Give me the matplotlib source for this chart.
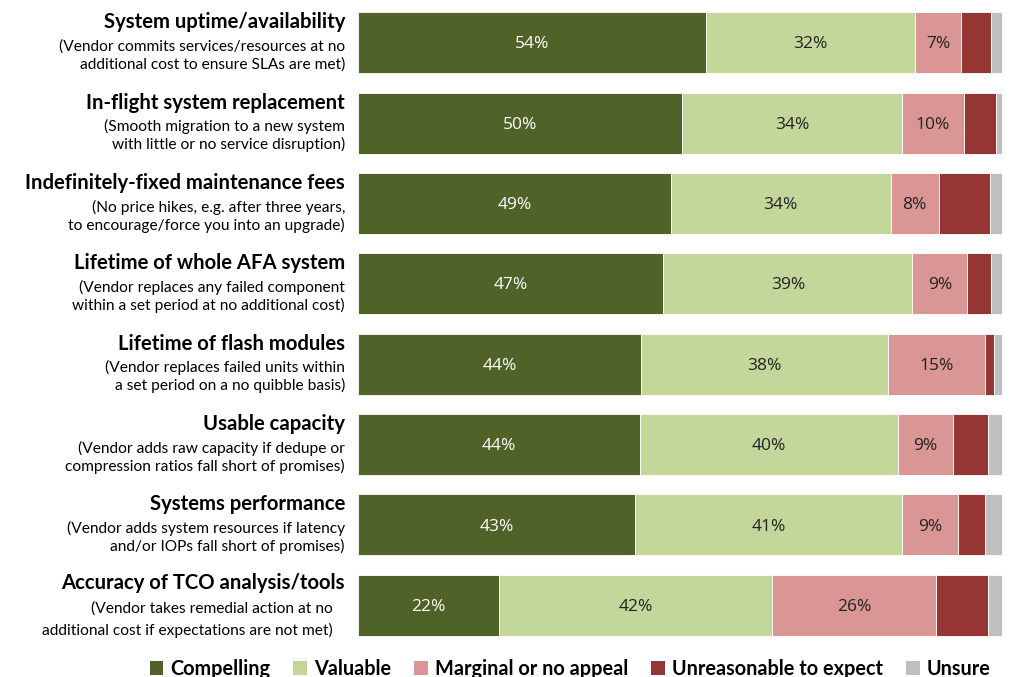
import matplotlib
matplotlib.use("Agg")
import matplotlib.pyplot as plt
import numpy as np
from matplotlib.patches import Patch

titles = ["System uptime/availability",
          "In-flight system replacement",
          "Indefinitely-fixed maintenance fees",
          "Lifetime of whole AFA system",
          "Lifetime of flash modules",
          "Usable capacity",
          "Systems performance",
          "Accuracy of TCO analysis/tools"]
subtitles = [["(Vendor commits services/resources at no", "additional cost to ensure SLAs are met)"],
             ["(Smooth migration to a new system", "with little or no service disruption)"],
             ["(No price hikes, e.g. after three years,", "to encourage/force you into an upgrade)"],
             ["(Vendor replaces any failed component", "within a set period at no additional cost)"],
             ["(Vendor replaces failed units within", "a set period on a no quibble basis)"],
             ["(Vendor adds raw capacity if dedupe or", "compression ratios fall short of promises)"],
             ["(Vendor adds system resources if latency", "and/or IOPs fall short of promises)"],
             ["(Vendor takes remedial action at no", "additional cost if expectations are not met)"]]

series_names = ["Compelling", "Valuable", "Marginal or no appeal", "Unreasonable to expect", "Unsure"]
compelling   = [54.0, 50.3, 48.6, 47.4, 43.9, 43.8, 43.0, 21.9]
valuable     = [32.5, 34.2, 34.1, 38.7, 38.4, 40.0, 41.5, 42.4]
marginal     = [7.1, 9.6, 7.5, 8.5, 15.0, 8.6, 8.6, 25.5]
unreasonable = [4.7, 4.9, 8.0, 3.7, 1.4, 5.4, 4.2, 8.1]
unsure       = [1.7, 1.0, 1.8, 1.7, 1.3, 2.2, 2.7, 2.1]
shown_labels = [["54%", "32%", "7%"], ["50%", "34%", "10%"], ["49%", "34%", "8%"],
                ["47%", "39%", "9%"], ["44%", "38%", "15%"], ["44%", "40%", "9%"],
                ["43%", "41%", "9%"], ["22%", "42%", "26%"]]

colors = ["#4F6228", "#C4D79B", "#DA9694", "#963634", "#BFBFBF"]
label_colors = ["white", "#222222", "#222222"]

fig = plt.figure(figsize=(10.10, 6.77), dpi=100)
ax = fig.add_axes([358/1010, 1 - 645.5/677, 644/1010, 643/677])

data = [compelling, valuable, marginal, unreasonable, unsure]
y = np.arange(len(titles))
left = np.zeros(len(titles))
for i, (vals, c) in enumerate(zip(data, colors)):
    vals = np.array(vals)
    ax.barh(y, vals, left=left, height=0.76, color=c, edgecolor="white", linewidth=0.6)
    if i < 3:
        for j in range(len(titles)):
            ax.text(left[j] + vals[j] / 2, y[j] + 0.02, shown_labels[j][i], ha="center", va="center",
                    fontsize=12.5, color=label_colors[i], family="Open Sans")
    left += vals

ax.set_xlim(0, left.max())
ax.set_ylim(len(titles) - 0.5, -0.5)
ax.axis("off")

trans = matplotlib.transforms.blended_transform_factory(ax.transAxes, ax.transData)
xoff = -13 / 644
n = len(titles)
for j in range(n):
    last = (j == n - 1)
    ax.text(xoff, y[j] - (0.28 if last else 0.255), titles[j], transform=trans, ha="right", va="center",
            fontsize=14.6, fontweight="bold", family="Lato", color="black")
    sx = (-25 / 644) if last else xoff
    ax.text(sx, y[j] + (0.04 if last else 0.045), subtitles[j][0], transform=trans, ha="right", va="center",
            fontsize=11.2, family="Lato", color="black")
    ax.text(sx, y[j] + (0.31 if last else 0.27), subtitles[j][1], transform=trans, ha="right", va="center",
            fontsize=11.2, family="Lato", color="black")

handles = [Patch(facecolor=c, edgecolor="none") for c in colors]
leg = fig.legend(handles, series_names, loc="center", bbox_to_anchor=(570/1010, 1 - 669/677),
                 ncol=5, frameon=False, handlelength=0.7, handleheight=0.7, handletextpad=0.35,
                 columnspacing=1.15, prop={"family": "Lato", "weight": "bold", "size": 14.3})

fig.savefig("out.png", dpi=100)
